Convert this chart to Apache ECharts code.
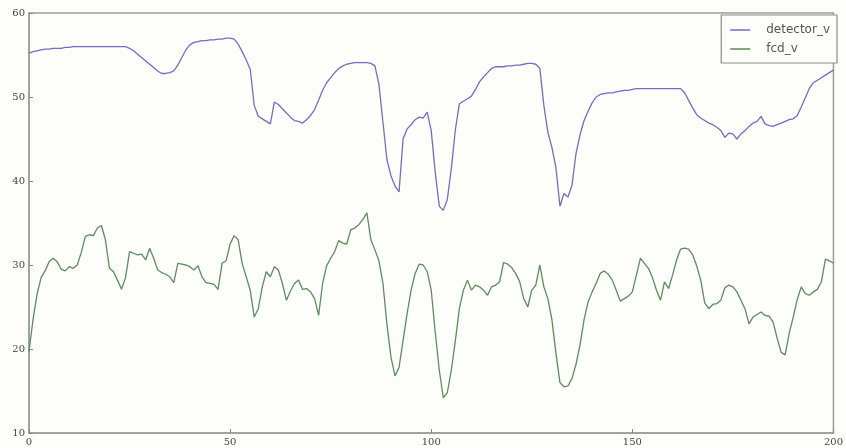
<!DOCTYPE html>
<html>
<head>
<meta charset="utf-8">
<script src="https://cdn.jsdelivr.net/npm/echarts@6/dist/echarts.min.js"></script>
<style>
  html, body { margin: 0; padding: 0; background: #fdfdfa; }
  #chart { width: 846px; height: 448px; }
</style>
</head>
<body>
<div id="chart"></div>
<script>
// Sample index along the x axis (0..200)
const xIndex = Array.from({ length: 201 }, (_, i) => i);

const detectorV = [
  55.2, 55.4, 55.5, 55.6, 55.7, 55.7, 55.8, 55.8, 55.8, 55.9,
  55.9, 56.0, 56.0, 56.0, 56.0, 56.0, 56.0, 56.0, 56.0, 56.0,
  56.0, 56.0, 56.0, 56.0, 56.0, 55.8, 55.5, 55.1, 54.7, 54.3,
  53.9, 53.5, 53.1, 52.8, 52.8, 52.9, 53.1, 53.8, 54.7, 55.6,
  56.2, 56.5, 56.6, 56.7, 56.7, 56.8, 56.8, 56.9, 56.9, 57.0,
  57.0, 56.9, 56.3, 55.4, 54.4, 53.3, 49.0, 47.7, 47.4, 47.1,
  46.8, 49.4, 49.1, 48.6, 48.1, 47.6, 47.2, 47.1, 46.9, 47.3,
  47.8, 48.5, 49.6, 50.8, 51.7, 52.3, 52.9, 53.4, 53.7, 53.9,
  54.0, 54.1, 54.1, 54.1, 54.1, 54.0, 53.7, 51.5, 47.0, 42.5,
  40.6, 39.4, 38.7, 45.0, 46.2, 46.7, 47.3, 47.6, 47.5, 48.2,
  46.0, 41.0, 37.0, 36.5, 37.8, 41.5, 46.1, 49.2, 49.5, 49.8,
  50.1, 50.9, 51.8, 52.4, 52.9, 53.4, 53.6, 53.6, 53.6, 53.7,
  53.7, 53.8, 53.8, 53.9, 54.0, 54.0, 53.9, 53.4, 49.0, 45.8,
  44.0, 41.6, 37.0, 38.5, 38.1, 39.5, 43.3, 45.5, 47.2, 48.3,
  49.3, 50.0, 50.3, 50.4, 50.5, 50.5, 50.6, 50.7, 50.8, 50.8,
  50.9, 51.0, 51.0, 51.0, 51.0, 51.0, 51.0, 51.0, 51.0, 51.0,
  51.0, 51.0, 51.0, 50.5, 49.6, 48.7, 47.9, 47.5, 47.2, 46.9,
  46.7, 46.4, 46.0, 45.2, 45.7, 45.6, 45.0, 45.6, 46.0, 46.5,
  46.9, 47.1, 47.7, 46.8, 46.6, 46.5, 46.7, 46.9, 47.1, 47.3,
  47.4, 47.8, 48.8, 49.9, 51.0, 51.7, 52.0, 52.3, 52.6, 52.9,
  53.2
];

const fcdV = [
  19.7, 23.5, 26.5, 28.5, 29.3, 30.4, 30.8, 30.4, 29.5, 29.3,
  29.8, 29.6, 30.0, 31.5, 33.4, 33.6, 33.5, 34.4, 34.7, 33.0,
  29.6, 29.2, 28.2, 27.1, 28.5, 31.6, 31.4, 31.2, 31.3, 30.6,
  32.0, 30.8, 29.4, 29.1, 28.9, 28.6, 27.9, 30.2, 30.1, 30.0,
  29.8, 29.4, 29.9, 28.6, 27.9, 27.8, 27.7, 27.1, 30.2, 30.5,
  32.5, 33.5, 33.0, 30.2, 28.6, 27.0, 23.8, 24.8, 27.4, 29.2,
  28.6, 29.8, 29.4, 27.8, 25.8, 26.9, 27.8, 28.2, 27.1, 27.2,
  26.8, 26.0, 24.0, 27.8, 29.9, 30.8, 31.6, 32.9, 32.6, 32.5,
  34.2, 34.4, 34.8, 35.4, 36.2, 33.0, 31.8, 30.5, 27.8, 22.9,
  19.0, 16.8, 17.8, 21.0, 24.2, 27.0, 29.0, 30.1, 30.0, 29.2,
  27.0, 22.0, 17.5, 14.2, 14.8, 17.5, 21.0, 24.8, 27.0, 28.2,
  27.0, 27.6, 27.4, 27.0, 26.4, 27.4, 27.6, 28.0, 30.3, 30.1,
  29.7, 29.0, 28.0, 26.0, 25.0, 27.0, 27.6, 30.0, 27.4, 26.0,
  23.5, 19.5, 16.0, 15.5, 15.6, 16.5, 18.2, 20.5, 23.5, 25.6,
  26.8, 27.8, 29.0, 29.3, 28.9, 28.2, 27.0, 25.7, 26.0, 26.3,
  26.8, 28.8, 30.8, 30.2, 29.6, 28.5, 27.0, 25.8, 28.0, 27.2,
  28.8, 30.6, 31.9, 32.0, 31.9, 31.2, 29.9, 28.2, 25.5, 24.8,
  25.3, 25.4, 25.8, 27.3, 27.6, 27.4, 26.8, 25.8, 24.8, 23.0,
  23.8, 24.1, 24.4, 24.0, 23.9, 23.2, 21.3, 19.6, 19.3, 21.9,
  23.8, 25.9, 27.4, 26.6, 26.4, 26.8, 27.1, 28.0, 30.7, 30.5,
  30.2
];

const seriesNames = ['detector_v', 'fcd_v'];
const seriesColors = ['#6f6fc6', '#5d8d5d'];

const chart = echarts.init(document.getElementById('chart'), null, { renderer: 'canvas' });

const pairs = (ys) => ys.map((y, i) => [xIndex[i], y]);

const axisText = { color: '#444', fontFamily: 'DejaVu Serif', fontSize: 10 };

chart.setOption({
  backgroundColor: '#fdfdfa',
  animation: false,
  grid: {
    left: 29, right: 7, top: 13, bottom: 15,
    show: true, borderColor: '#9c9c98', borderWidth: 1.5,
    backgroundColor: 'transparent'
  },
  legend: {
    right: 9, top: 15,
    orient: 'vertical',
    data: seriesNames.map((n, i) => ({ name: n, icon: 'rect', itemStyle: { color: seriesColors[i] } })),
    itemWidth: 20, itemHeight: 1.5, itemGap: 7,
    padding: [9, 7, 8, 9],
    borderColor: '#8c8c88', borderWidth: 1.2,
    backgroundColor: '#fdfdfa',
    textStyle: { color: '#555', fontFamily: 'DejaVu Sans', fontSize: 12, padding: [0, 0, 0, 11] }
  },
  xAxis: {
    type: 'value', min: 0, max: 200, interval: 50,
    axisLine: { show: true, lineStyle: { color: '#9c9c98', width: 1.5 } },
    axisTick: { show: true, inside: true, length: 4, lineStyle: { color: '#888' } },
    splitLine: { show: false },
    axisLabel: Object.assign({ margin: 4, showMaxLabel: true }, axisText)
  },
  yAxis: {
    type: 'value', min: 10, max: 60, interval: 10,
    axisLine: { show: true, lineStyle: { color: '#9c9c98', width: 1.5 } },
    axisTick: { show: true, inside: true, length: 4, lineStyle: { color: '#888' } },
    splitLine: { show: false },
    axisLabel: Object.assign({ margin: 4 }, axisText)
  },
  series: [
    {
      name: seriesNames[0], type: 'line', data: pairs(detectorV),
      showSymbol: false, symbol: 'none',
      lineStyle: { color: seriesColors[0], width: 1.3 },
      itemStyle: { color: seriesColors[0] }
    },
    {
      name: seriesNames[1], type: 'line', data: pairs(fcdV),
      showSymbol: false, symbol: 'none',
      lineStyle: { color: seriesColors[1], width: 1.3 },
      itemStyle: { color: seriesColors[1] }
    }
  ]
});
</script>
</body>
</html>
